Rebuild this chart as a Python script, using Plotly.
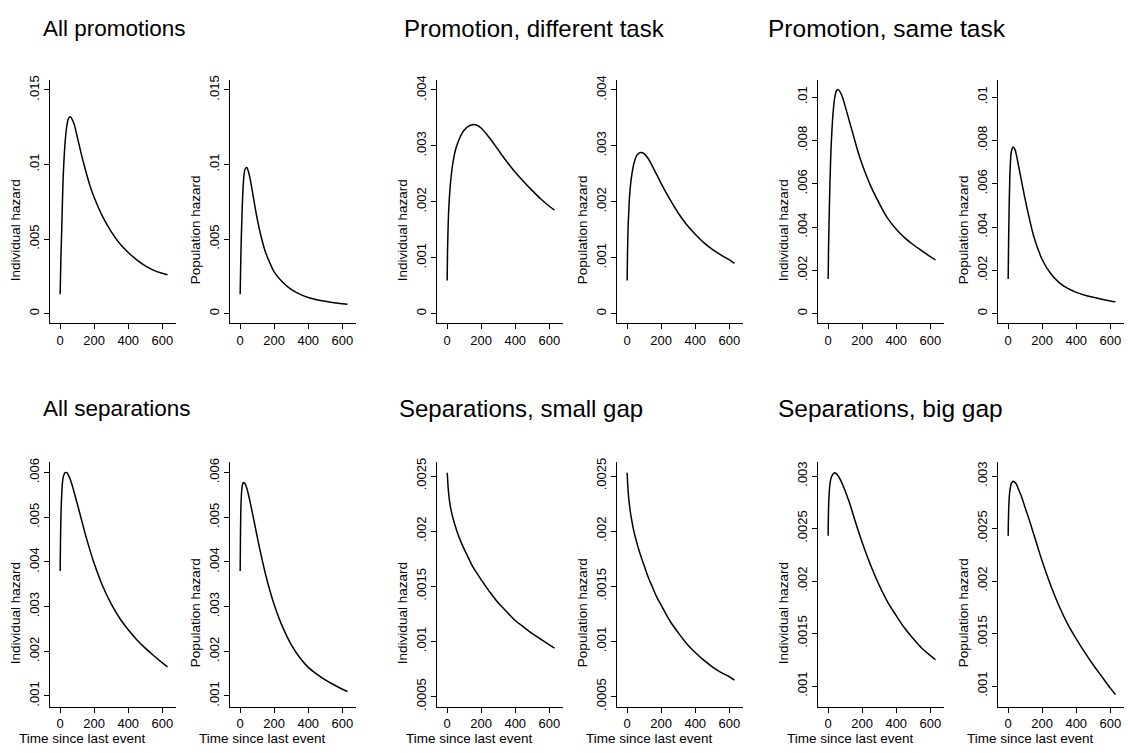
import plotly.graph_objects as go

W, H = 1128, 753

# ---------------- data ----------------
T = [1, 3, 6, 10, 15, 20, 30, 40, 50, 60, 80, 100, 125, 150, 175, 200,
     250, 300, 350, 400, 450, 500, 550, 600, 630]

ind_all_promo = [.0013, .0025, .0040, .0056, .0078, .0095, .0115, .0126, .0131, .0132, .0128, .0119, .0107,
                 .0096, .0086, .0078, .0065, .0055, .0047, .0041, .0036, .0032, .0029, .0027, .0026]
pop_all_promo = [.0013, .0026, .0043, .0060, .0077, .0088, .0097, .0098, .0095, .0090, .0077, .0064, .0051,
                 .0041, .0034, .0028, .0021, .00162, .0013, .00108, .00093, .00082, .00073, .00066, .00062]
ind_diff_task = [.00059, .0011, .0015, .00185, .00212, .00232, .0026, .00279, .00293, .00303, .00318, .00328,
                 .00335, .00338, .00337, .00332, .00314, .00293, .00272, .00253, .00236, .0022, .00205, .00192, .00185]
pop_diff_task = [.00059, .0011, .0015, .0018, .0021, .00228, .00252, .00268, .00278, .00284, .00288, .00286,
                 .00277, .00263, .00248, .00233, .00205, .0018, .00159, .00142, .00127, .00115, .00105, .00096, .0009]
ind_same_task = [.0016, .0029, .0041, .0056, .0070, .0080, .0093, .0100, .0103, .01035, .0101, .0096, .0089,
                 .0082, .0075, .0069, .0059, .0051, .0044, .0039, .0035, .00318, .0029, .00263, .00248]
pop_same_task = [.0016, .0030, .0046, .0061, .0071, .0075, .0077, .0076, .0073, .0069, .0061, .0053, .0044,
                 .0036, .0030, .0025, .00185, .00143, .00116, .00098, .00085, .00075, .00066, .00058, .00054]
ind_all_sep = [.0038, .0045, .0051, .0055, .0058, .00592, .0060, .0060, .00594, .00585, .0056, .00532, .00496,
               .0046, .00427, .00397, .00346, .00306, .00274, .00248, .00226, .00207, .0019, .00174, .00165]
pop_all_sep = [.0038, .0047, .0053, .0056, .00574, .00578, .00575, .00565, .0055, .00533, .00496, .00458, .00413,
               .00372, .00336, .00305, .00254, .00215, .00186, .00164, .00149, .00136, .00125, .00115, .0011]
ind_small_gap = [.00253, .00249, .00241, .00234, .00227, .00222, .00215, .00209, .00204, .00199, .00191, .00184,
                 .00176, .00168, .00162, .00156, .00145, .00135, .00127, .00119, .00113, .00107, .00102, .00097, .00094]
pop_small_gap = [.00253, .00246, .00238, .0023, .00223, .00217, .00208, .0020, .00194, .00188, .00178, .00169,
                 .00158, .00149, .0014, .00133, .00119, .00108, .00098, .0009, .00083, .00077, .00072, .00068, .00065]
ind_big_gap = [.00243, .00268, .00281, .0029, .00296, .00299, .00302, .00303, .00302, .0030, .00294, .00286,
               .00275, .00262, .00249, .00237, .00215, .00196, .0018, .00167, .00155, .00145, .00136, .00129, .00125]
pop_big_gap = [.00243, .00262, .00276, .00285, .0029, .00293, .00295, .00294, .00292, .00288, .0028, .0027,
               .00258, .00245, .00232, .00219, .00196, .00176, .00159, .00145, .00132, .0012, .00109, .00098, .00092]

group_titles = ["All promotions", "Promotion, different task", "Promotion, same task",
                "All separations", "Separations, small gap", "Separations, big gap"]
y_titles = ["Individual hazard", "Population hazard"]
x_title = "Time since last event"

x_ticks = [0, 200, 400, 600]
x_ticklabels = ["0", "200", "400", "600"]

yt_all_promo = [0, .005, .01, .015]
yl_all_promo = ["0", ".005", ".01", ".015"]
yt_diff_task = [0, .001, .002, .003, .004]
yl_diff_task = ["0", ".001", ".002", ".003", ".004"]
yt_same_task = [0, .002, .004, .006, .008, .01]
yl_same_task = ["0", ".002", ".004", ".006", ".008", ".01"]
yt_all_sep = [.001, .002, .003, .004, .005, .006]
yl_all_sep = [".001", ".002", ".003", ".004", ".005", ".006"]
yt_small_gap = [.0005, .001, .0015, .002, .0025]
yl_small_gap = [".0005", ".001", ".0015", ".002", ".0025"]
yt_big_gap = [.001, .0015, .002, .0025, .003]
yl_big_gap = [".001", ".0015", ".002", ".0025", ".003"]

# ---------------- layout (pixels) ----------------
panels = [
    (ind_all_promo, yt_all_promo, yl_all_promo, [-0.000643, 0.015663], 0),
    (pop_all_promo, yt_all_promo, yl_all_promo, [-0.000643, 0.015663], 0),
    (ind_diff_task, yt_diff_task, yl_diff_task, [-0.000171, 0.004177], 0),
    (pop_diff_task, yt_diff_task, yl_diff_task, [-0.000171, 0.004177], 0),
    (ind_same_task, yt_same_task, yl_same_task, [-0.000443, 0.01079], 0),
    (pop_same_task, yt_same_task, yl_same_task, [-0.000443, 0.01079], 0),
    (ind_all_sep, yt_all_sep, yl_all_sep, [0.000763, 0.006228], 1),
    (pop_all_sep, yt_all_sep, yl_all_sep, [0.000763, 0.006228], 1),
    (ind_small_gap, yt_small_gap, yl_small_gap, [0.00041, 0.002623], 1),
    (pop_small_gap, yt_small_gap, yl_small_gap, [0.00041, 0.002623], 1),
    (ind_big_gap, yt_big_gap, yl_big_gap, [0.000805, 0.003129], 1),
    (pop_big_gap, yt_big_gap, yl_big_gap, [0.000805, 0.003129], 1),
]

col_x0 = [50, 230, 437, 617, 818, 998]
panel_w = 126
px_per_unit = 0.1706
row_y = [(76, 322), (463, 710)]
# (left x, centre y, font size)
title_pos = [(41, 24, 22.5), (402, 24, 24), (766, 24, 24.5),
             (41, 408, 22.5), (397, 408, 24), (776, 408, 24.5)]

FONT = "Liberation Sans, Arial, Helvetica, sans-serif"

fig = go.Figure()
annotations = []
layout_axes = {}

for i, (vals, yt, yl, yr, row) in enumerate(panels):
    col = i % 6
    x0 = col_x0[col]
    x1 = min(x0 + panel_w, W - 1)
    xr = [-10 / px_per_unit, -10 / px_per_unit + (x1 - x0) / px_per_unit]
    ytop, ybot = row_y[row]
    n = i + 1
    xa = "xaxis" if n == 1 else f"xaxis{n}"
    ya = "yaxis" if n == 1 else f"yaxis{n}"
    xref = "x" if n == 1 else f"x{n}"
    yref = "y" if n == 1 else f"y{n}"
    fig.add_trace(go.Scatter(x=T, y=vals, mode="lines", xaxis=xref, yaxis=yref,
                             line=dict(color="black", width=1.5, shape="spline", smoothing=1.0),
                             showlegend=False, hoverinfo="skip"))
    layout_axes[xa] = dict(domain=[x0 / W, x1 / W], range=xr, anchor=yref,
                           tickvals=x_ticks, ticktext=x_ticklabels, ticks="outside", ticklen=5,
                           tickcolor="black", showline=True, linecolor="black", linewidth=1,
                           showgrid=False, zeroline=False,
                           tickfont=dict(family=FONT, size=13, color="black"), fixedrange=True)
    layout_axes[ya] = dict(domain=[1 - ybot / H, 1 - ytop / H], range=yr, anchor=xref,
                           tickvals=yt, ticktext=yl, ticks="outside", ticklen=5, tickangle=-90,
                           tickcolor="black", showline=True, linecolor="black", linewidth=1,
                           showgrid=False, zeroline=False,
                           tickfont=dict(family=FONT, size=13, color="black"), fixedrange=True)
    annotations.append(dict(text=y_titles[i % 2], xref="paper", yref="paper",
                            x=(x0 - 35) / W, y=1 - ((ytop + ybot) / 2 + 29) / H,
                            xanchor="center", yanchor="middle", textangle=-90, showarrow=False,
                            font=dict(family=FONT, size=13.5, color="black")))
    if row == 1:
        annotations.append(dict(text=x_title, xref="paper", yref="paper",
                                x=(x0 + 32) / W, y=1 - 742 / H,
                                xanchor="center", yanchor="middle", showarrow=False,
                                font=dict(family=FONT, size=13.5, color="black")))

for (tx, ty, fs), t in zip(title_pos, group_titles):
    annotations.append(dict(text=t, xref="paper", yref="paper", x=tx / W, y=1 - ty / H,
                            xanchor="left", yanchor="middle", showarrow=False,
                            font=dict(family=FONT, size=fs, color="black")))

fig.update_layout(width=W, height=H, margin=dict(l=0, r=0, t=0, b=0),
                  paper_bgcolor="white", plot_bgcolor="white",
                  annotations=annotations, **layout_axes)

fig.write_html("out.html", config={"displayModeBar": False},
               post_script="document.body.style.margin='0';document.body.style.overflow='hidden';")
